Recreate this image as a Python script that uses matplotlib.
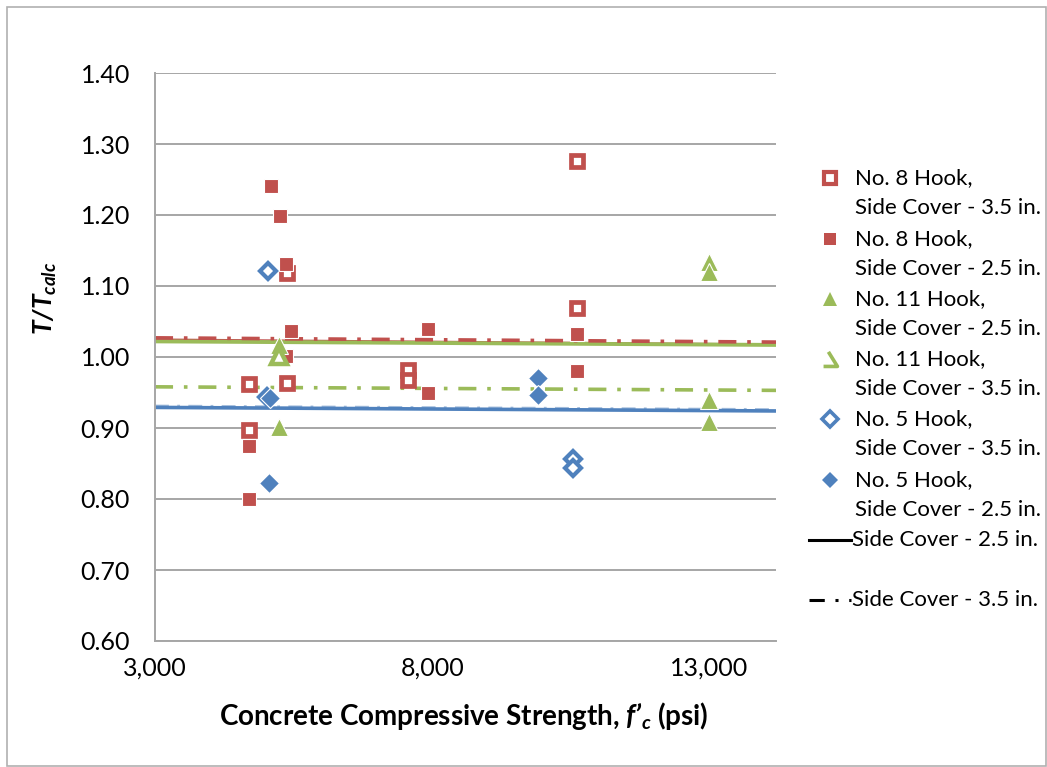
import matplotlib
matplotlib.use("Agg")
import matplotlib.pyplot as plt
from matplotlib.lines import Line2D
from matplotlib.patches import Rectangle
from matplotlib.path import Path

plt.rcParams["font.family"] = ["Lato", "DejaVu Sans"]
plt.rcParams["mathtext.fontset"] = "custom"
plt.rcParams["mathtext.rm"] = "Lato:bold:italic"
plt.rcParams["mathtext.it"] = "Lato:bold:italic"
plt.rcParams["mathtext.bf"] = "Lato:bold:italic"

RED = "#C0504D"
GREEN = "#9BBB59"
BLUE = "#4F81BD"

# measured hooks: f'c (psi) and T/Tcalc
no8_35_fc = [4700, 4700, 5380, 5380, 7570, 7570, 10610, 10610]
no8_35_ratio = [0.962, 0.897, 0.963, 1.118, 0.982, 0.967, 1.276, 1.069]

no8_25_fc = [4700, 4700, 5090, 5250, 5365, 5450, 5365, 7920, 7920, 10610, 10610]
no8_25_ratio = [0.874, 0.800, 1.241, 1.199, 1.131, 1.036, 1.001, 1.039, 0.950, 1.033, 0.980]

no11_25_fc = [5240, 5240, 13000, 13000, 13000, 13000]
no11_25_ratio = [1.017, 0.902, 1.134, 1.120, 0.939, 0.909]

no11_35_fc = [5240]
no11_35_ratio = [1.001]

no5_35_fc = [5030, 5020, 10530, 10530]
no5_35_ratio = [1.121, 0.944, 0.856, 0.844]

no5_25_fc = [5075, 5060, 9900, 9900]
no5_25_ratio = [0.942, 0.822, 0.971, 0.946]

# trend lines across the strength range
trend_fc = [3000, 14200]
trend_no8_25 = [1.025, 1.018]
trend_no8_35 = [1.027, 1.021]
trend_no11_25 = [1.022, 1.017]
trend_no11_35 = [0.958, 0.953]
trend_no5_25 = [0.929, 0.924]
trend_no5_35 = [0.931, 0.926]

x_ticks = [3000, 8000, 13000]
y_ticks = [0.60, 0.70, 0.80, 0.90, 1.00, 1.10, 1.20, 1.30, 1.40]

W, H = 1047, 767
fig = plt.figure(figsize=(W / 100, H / 100), dpi=100)
ax = fig.add_axes([155 / W, 1 - 641 / H, (776 - 155) / W, (641 - 73) / H])

dashdot = (0, (5, 3, 1, 3))
ax.plot(trend_fc, trend_no5_35, color=BLUE, lw=2.0, ls=dashdot, alpha=0.5)
ax.plot(trend_fc, trend_no5_25, color=BLUE, lw=2.6)
ax.plot(trend_fc, trend_no8_25, color=RED, lw=1.2)
ax.plot(trend_fc, trend_no11_25, color=GREEN, lw=2.8)
ax.plot(trend_fc, trend_no8_35, color=RED, lw=2.6, ls=dashdot)
ax.plot(trend_fc, trend_no11_35, color=GREEN, lw=2.6, ls=dashdot)

ax.plot(no8_35_fc, no8_35_ratio, ls="none", marker="s", ms=9, mfc="white",
        mec=RED, mew=3.4)
ax.plot(no8_25_fc, no8_25_ratio, ls="none", marker="s", ms=10.5, mfc=RED,
        mec="white", mew=0.8)
ax.plot(no11_25_fc, no11_25_ratio, ls="none", marker="^", ms=13, mfc=GREEN,
        mec="white", mew=0.8)
ax.plot(no11_35_fc, no11_35_ratio, ls="none", marker="^", ms=12, mfc="white",
        mec=GREEN, mew=3.2)
ax.plot(no5_35_fc, no5_35_ratio, ls="none", marker="D", ms=8.5, mfc="white",
        mec=BLUE, mew=3.0)
ax.plot(no5_25_fc, no5_25_ratio, ls="none", marker="D", ms=10, mfc=BLUE,
        mec="white", mew=0.8)

ax.set_xlim(3000, 14200)
ax.set_ylim(0.6, 1.4)
ax.set_xticks(x_ticks)
ax.set_xticklabels([f"{v:,}" for v in x_ticks])
ax.set_yticks(y_ticks)
ax.set_yticklabels([f"{v:.2f}" for v in y_ticks])
ax.tick_params(length=0, labelsize=18, pad=11)
ax.tick_params(axis="y", pad=18)
ax.grid(axis="y", color="#A6A6A6", lw=1.4)
ax.set_axisbelow(True)
for side in ["top", "right"]:
    ax.spines[side].set_visible(False)
for side in ["left", "bottom"]:
    ax.spines[side].set_color("#A6A6A6")
    ax.spines[side].set_linewidth(1.4)

fig.text(45 / W, 1 - 298 / H, r"$T/T_{calc}$", rotation=90, fontsize=19,
         ha="center", va="center")
fig.text(464 / W, 1 - 716 / H, "Concrete Compressive Strength, $f’_c$ (psi)",
         fontsize=20, fontweight="bold", ha="center", va="center")

# legend, laid out by hand in pixel positions
def px(x, y):
    return x / W, 1 - y / H

open_tri = Path([(-0.15, 0.55), (0.5, -0.5), (-0.5, -0.5)],
                [Path.MOVETO, Path.LINETO, Path.LINETO])
legend_items = [
    (dict(marker="s", ms=9, mfc="white", mec=RED, mew=3.0), "No. 8 Hook,", "Side Cover - 3.5 in.", 178),
    (dict(marker="s", ms=9, mfc=RED, mec=RED, mew=0), "No. 8 Hook,", "Side Cover - 2.5 in.", 239),
    (dict(marker="^", ms=10, mfc=GREEN, mec=GREEN, mew=0), "No. 11 Hook,", "Side Cover - 2.5 in.", 299),
    (dict(marker=open_tri, ms=11, mfc="none", mec=GREEN, mew=2.6), "No. 11 Hook,", "Side Cover - 3.5 in.", 359),
    (dict(marker="D", ms=8, mfc="white", mec=BLUE, mew=2.6), "No. 5 Hook,", "Side Cover - 3.5 in.", 419),
    (dict(marker="D", ms=8, mfc=BLUE, mec=BLUE, mew=0), "No. 5 Hook,", "Side Cover - 2.5 in.", 480),
]
for style, line1, line2, y in legend_items:
    mx, my = px(830, y)
    fig.add_artist(Line2D([mx], [my], ls="none", **style))
    fig.text(*px(855, y), line1, fontsize=16, va="center", ha="left")
    fig.text(*px(855, y + 30), line2, fontsize=16, va="center", ha="left")

fig.add_artist(Line2D([809 / W, 851 / W], [1 - 540 / H] * 2, color="black", lw=2.2))
fig.text(*px(852, 540), "Side Cover - 2.5 in.", fontsize=16, va="center", ha="left")
fig.add_artist(Line2D([809 / W, 851 / W], [1 - 600 / H] * 2, color="black", lw=2.2,
                      ls=(0, (5, 3.5, 1, 3.5))))
fig.text(*px(852, 600), "Side Cover - 3.5 in.", fontsize=16, va="center", ha="left")

fig.add_artist(Rectangle((7 / W, 1 / H), 1 - 8 / W, 1 - 8 / H, transform=fig.transFigure,
                         fill=False, ec="#B0B0B0", lw=1.2))

fig.savefig("out.png", dpi=100)
